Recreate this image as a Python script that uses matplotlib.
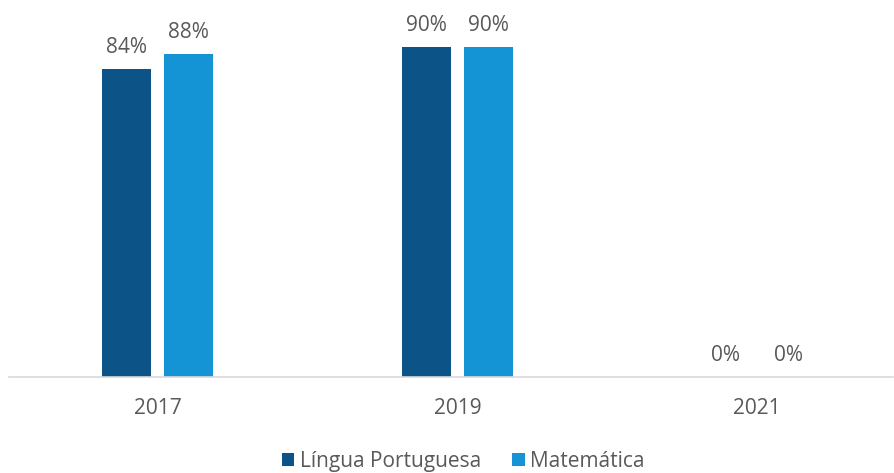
import numpy as np
import matplotlib.pyplot as plt

plt.rcParams['font.family'] = ['Open Sans', 'DejaVu Sans']

years = ['2017', '2019', '2021']
lingua = [0.84, 0.90, 0.0]
matematica = [0.88, 0.90, 0.0]
series_names = ['Língua Portuguesa', 'Matemática']
colors = ['#0C5488', '#1494D4']
txt = '#595959'
fs = 15

fig = plt.figure(figsize=(8.94, 4.73), dpi=100)
ax = fig.add_axes([9 / 894, 1 - 377 / 473, 884 / 894, (377 - 10.3) / 473])

x = np.arange(len(years))
w = 0.164
off = 0.1035
b1 = ax.bar(x - off, lingua, w, color=colors[0], label=series_names[0])
b2 = ax.bar(x + off, matematica, w, color=colors[1], label=series_names[1])

for bars, vals in [(b1, lingua), (b2, matematica)]:
    for rect, v in zip(bars, vals):
        ax.annotate(f'{v:.0%}', (rect.get_x() + rect.get_width() / 2, v),
                    xytext=(0, 8), textcoords='offset points',
                    ha='center', va='bottom', fontsize=fs, color=txt)

ax.set_xlim(-0.497, 2.454)
ax.set_ylim(0, 1)
ax.set_xticks(x)
ax.set_xticklabels(years, fontsize=fs, color=txt)
ax.tick_params(axis='x', length=0, pad=15)
ax.set_yticks([])
for s in ['top', 'right', 'left']:
    ax.spines[s].set_visible(False)
ax.spines['bottom'].set_color('#D9D9D9')
ax.spines['bottom'].set_linewidth(1.2)

fig.legend(loc='center', bbox_to_anchor=(463 / 894, 1 - 461 / 473), ncol=2,
           frameon=False, fontsize=fs, labelcolor=txt,
           handlelength=0.6, handleheight=0.6, handletextpad=0.25,
           columnspacing=1.5)

fig.savefig('out.png', dpi=100)
